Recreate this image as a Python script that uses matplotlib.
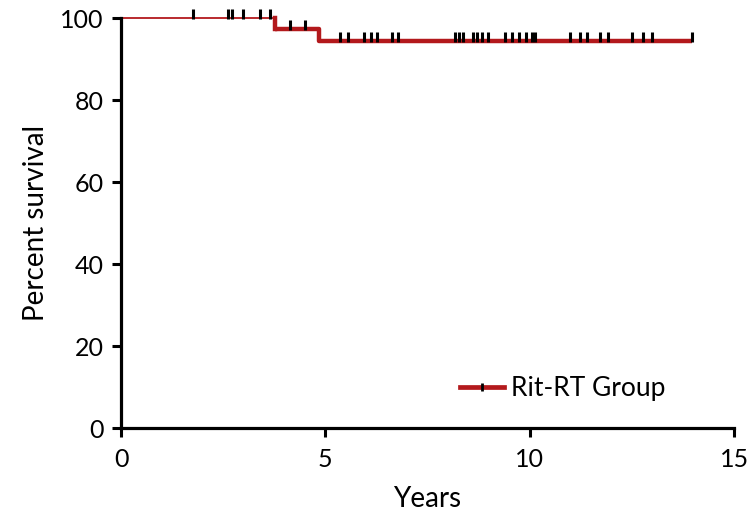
import matplotlib
matplotlib.use("Agg")
import matplotlib.pyplot as plt
from matplotlib.lines import Line2D

# Data
step_times = [0.0, 3.77, 4.84, 13.97]
step_surv = [100.0, 97.3, 94.4, 94.4]
cens_times = [1.76, 2.62, 2.72, 2.99, 3.40, 3.65,
              4.13, 4.50,
              5.36, 5.55, 5.95, 6.12, 6.26, 6.63, 6.78,
              8.17, 8.27, 8.37, 8.61, 8.71, 8.83, 8.98,
              9.40, 9.57, 9.74, 9.91, 10.06, 10.13,
              10.99, 11.23, 11.40, 11.72, 11.92,
              12.50, 12.77, 12.99, 13.97]
series_label = "Rit-RT Group"
x_ticks = [0, 5, 10, 15]
y_ticks = [0, 20, 40, 60, 80, 100]

plt.rcParams['font.family'] = ['Lato', 'DejaVu Sans']

def surv_at(t):
    s = step_surv[0]
    for tt, ss in zip(step_times, step_surv):
        if t >= tt:
            s = ss
    return s

red = "#b3191c"
fig = plt.figure(figsize=(7.54, 5.17), dpi=100)
ax = fig.add_axes([0.1605, 0.172, 0.813, 0.793])

# first flat segment thinner, rest thicker
ax.plot(step_times[:2], [step_surv[0]] * 2, color=red, lw=1.3, solid_capstyle='butt', clip_on=False)
ax.step(step_times[1:], step_surv[1:], where='post', color=red, lw=3.2, solid_capstyle='butt', clip_on=False)
ax.plot([step_times[1], step_times[1]], [step_surv[0], step_surv[1]], color=red, lw=3.2, clip_on=False)

cs = [surv_at(t) + 0.9 for t in cens_times]
ax.plot(cens_times, cs, ls='none', marker='|', color='black', ms=7, mew=2.2, clip_on=False)

ax.set_xlim(0, 15)
ax.set_ylim(0, 100)
ax.set_xticks(x_ticks)
ax.set_yticks(y_ticks)
for s in ['top', 'right']:
    ax.spines[s].set_visible(False)
for s in ['left', 'bottom']:
    ax.spines[s].set_linewidth(2.3)
ax.tick_params(axis='both', direction='out', length=6.5, width=2.2, labelsize=18)
ax.tick_params(axis='x', pad=8)
ax.tick_params(axis='y', pad=6)
ax.set_xlabel("Years", fontsize=20, labelpad=11)
ax.set_ylabel("Percent survival", fontsize=20, labelpad=8)

leg = ax.legend([(Line2D([0], [0], color=red, lw=3.4),
                  Line2D([0], [0], ls='none', marker='|', color='black', ms=6, mew=2))],
                [series_label], loc='center left', bbox_to_anchor=(0.553, 0.097), frameon=False,
                fontsize=19, handlelength=1.67, handletextpad=0.25, borderpad=0, borderaxespad=0)

fig.savefig("out.png", dpi=100)
